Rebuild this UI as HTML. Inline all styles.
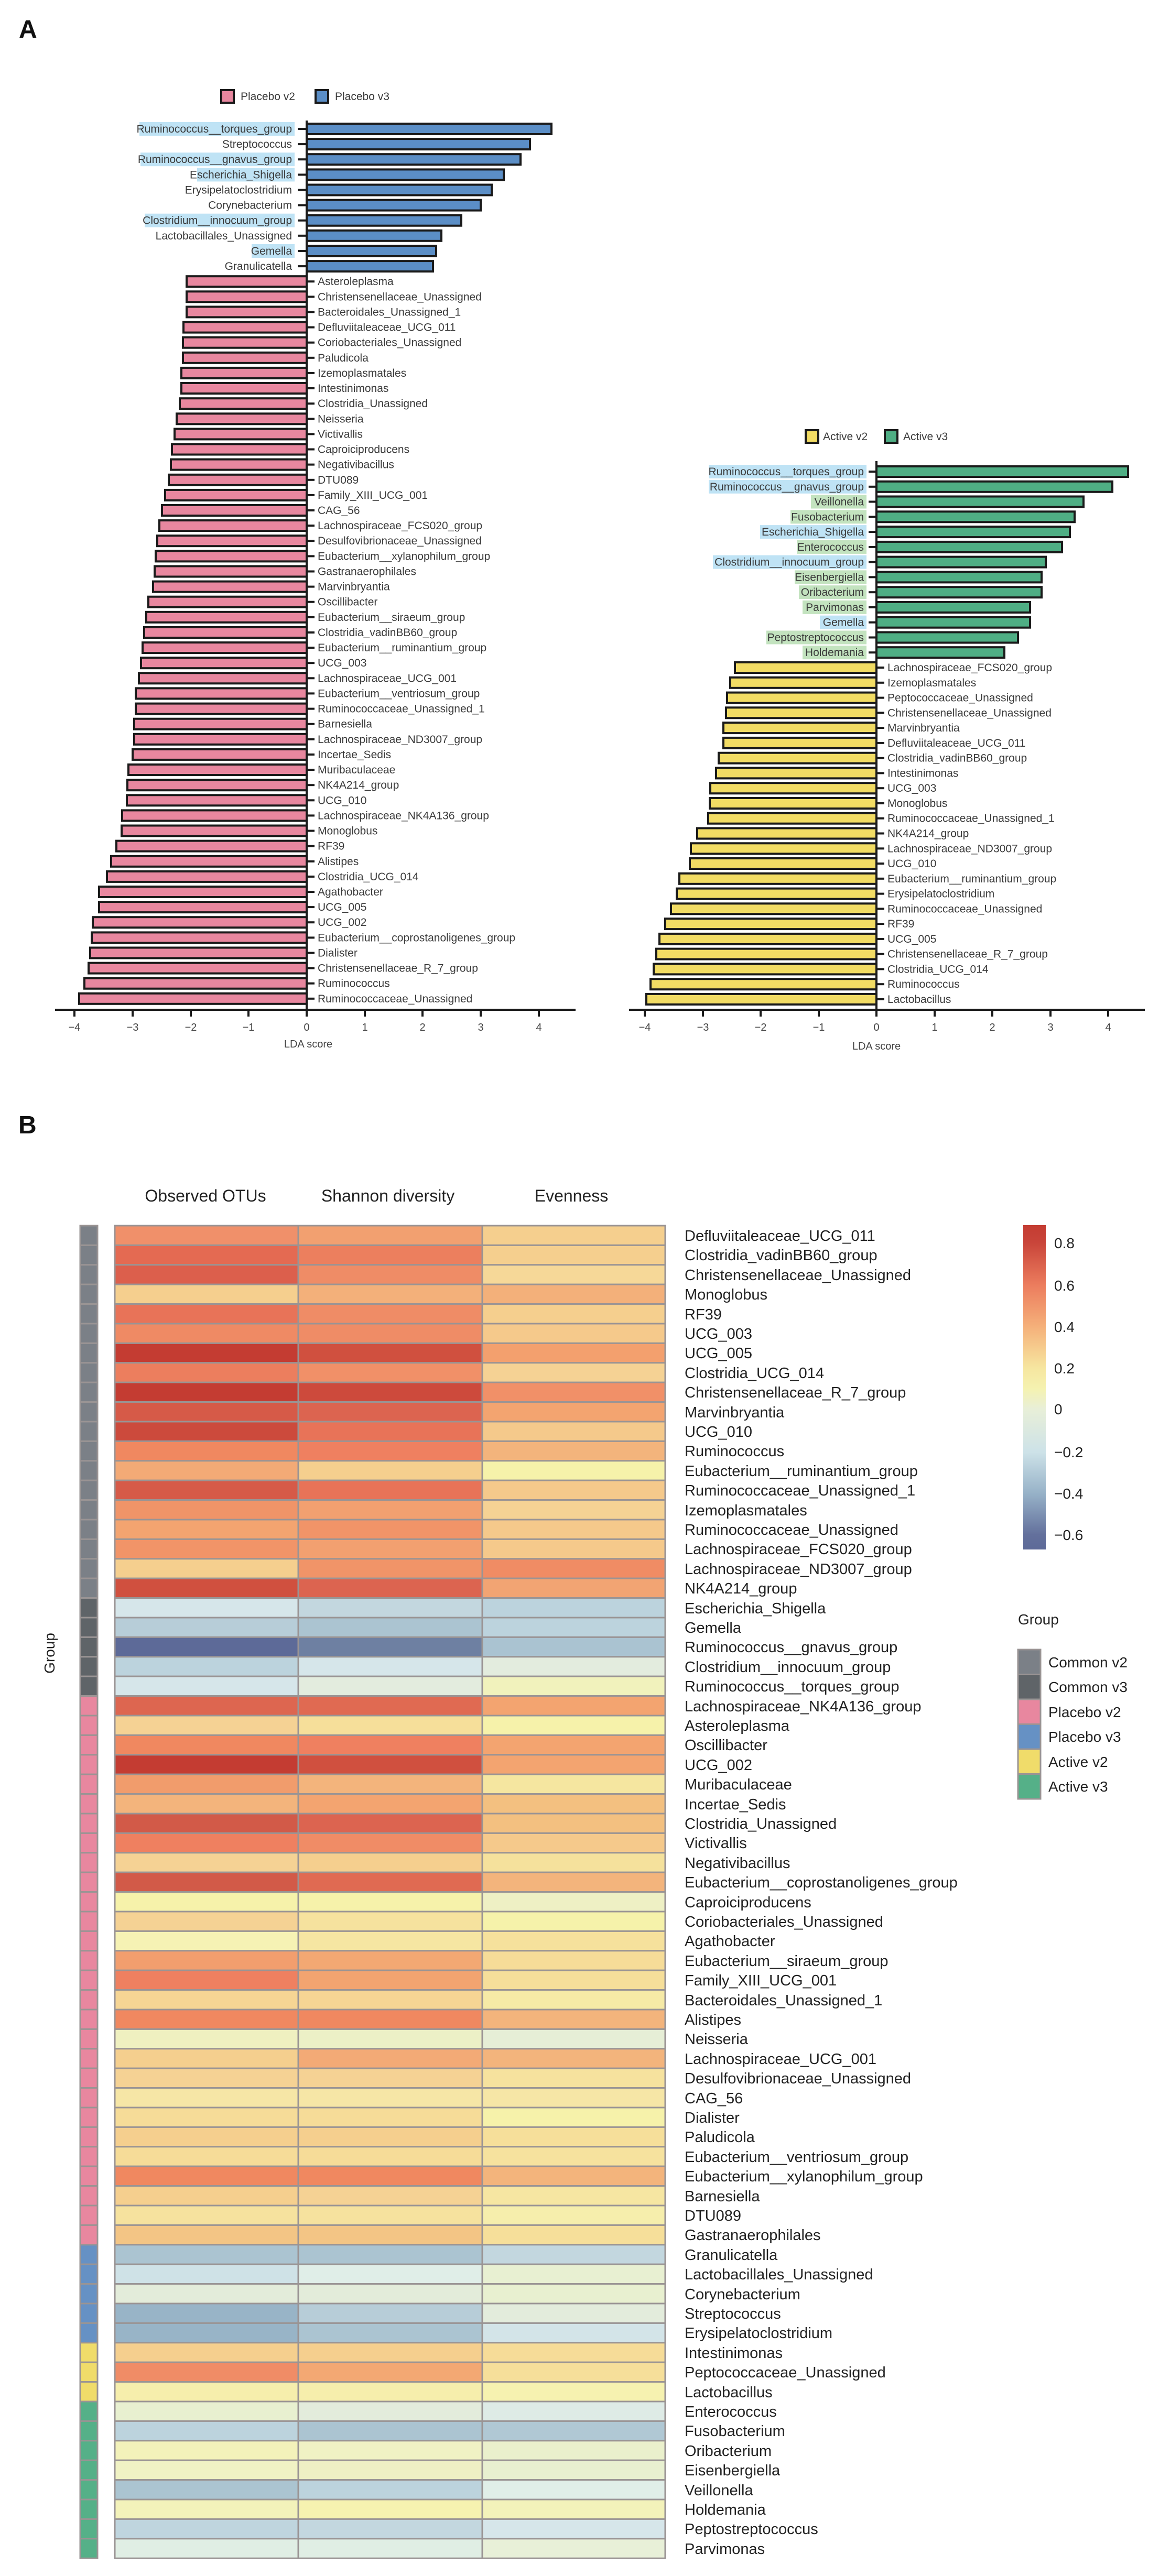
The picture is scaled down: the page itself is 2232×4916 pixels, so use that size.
<!DOCTYPE html>
<html><head><meta charset="utf-8"><style>
html,body{margin:0;padding:0;background:#fff}
svg{display:block}
text{font-family:"Liberation Sans",Arial,sans-serif}
.bl{font-size:21px;fill:#3a3a3a}
.r{text-anchor:end}
.pk{fill:#e8879f;stroke:#1a1a1a;stroke-width:4}
.bu{fill:#5b8ec6;stroke:#1a1a1a;stroke-width:4}
.ye{fill:#f2dc64;stroke:#1a1a1a;stroke-width:4}
.gr{fill:#4fae84;stroke:#1a1a1a;stroke-width:4}
.hb{fill:#bfe3f5}.hg{fill:#c3e3bf}
.tk{stroke:#1a1a1a;stroke-width:4}
.tl{font-size:20px;fill:#444;text-anchor:middle}
.hm rect{stroke:#9a9494;stroke-width:3}
.rl{font-size:29px;fill:#222}
.g1{fill:#7b8087}.g2{fill:#5f6468}.g3{fill:#e8879f}.g4{fill:#6691c4}.g5{fill:#f0dc6a}.g6{fill:#55b088}
</style></head><body>
<svg width="2232" height="4916" viewBox="0 0 2232 4916" xmlns="http://www.w3.org/2000/svg">
<text x="36" y="72" font-size="48" font-weight="bold" fill="#111">A</text>
<text x="35" y="2163" font-size="48" font-weight="bold" fill="#111">B</text>

<!-- Placebo legend -->
<rect x="422" y="172" width="24" height="24" class="pk"/>
<text x="459" y="191" class="bl">Placebo v2</text>
<rect x="602" y="172" width="24" height="24" class="bu"/>
<text x="639" y="191" class="bl">Placebo v3</text>

<!-- Placebo axes -->
<line x1="585" y1="230" x2="585" y2="1929" class="tk"/>
<line x1="105" y1="1927" x2="1098" y2="1927" class="tk"/>
<g class="tk">
<line x1="142" y1="1927" x2="142" y2="1940"/><line x1="253" y1="1927" x2="253" y2="1940"/><line x1="364" y1="1927" x2="364" y2="1940"/><line x1="474" y1="1927" x2="474" y2="1940"/><line x1="585" y1="1927" x2="585" y2="1940"/><line x1="696" y1="1927" x2="696" y2="1940"/><line x1="806" y1="1927" x2="806" y2="1940"/><line x1="917" y1="1927" x2="917" y2="1940"/><line x1="1028" y1="1927" x2="1028" y2="1940"/>
</g>
<g class="tl"><text x="142" y="1967">−4</text><text x="253" y="1967">−3</text><text x="364" y="1967">−2</text><text x="474" y="1967">−1</text><text x="585" y="1967">0</text><text x="696" y="1967">1</text><text x="806" y="1967">2</text><text x="917" y="1967">3</text><text x="1028" y="1967">4</text></g>
<text x="588" y="1999" class="tl">LDA score</text>

<!-- Placebo positive bars -->
<g transform="translate(0,246)"><rect x="266" y="-13" width="296" height="26" class="hb"/><rect x="585" y="-10" width="467" height="20" class="bu"/><line x1="568" x2="583" y1="0" y2="0" class="tk"/><text x="557" y="7" class="bl r">Ruminococcus__torques_group</text></g>
<g transform="translate(0,275.1)"><rect x="585" y="-10" width="426" height="20" class="bu"/><line x1="568" x2="583" y1="0" y2="0" class="tk"/><text x="557" y="7" class="bl r">Streptococcus</text></g>
<g transform="translate(0,304.2)"><rect x="268" y="-13" width="294" height="26" class="hb"/><rect x="585" y="-10" width="408" height="20" class="bu"/><line x1="568" x2="583" y1="0" y2="0" class="tk"/><text x="557" y="7" class="bl r">Ruminococcus__gnavus_group</text></g>
<g transform="translate(0,333.4)"><rect x="376" y="-13" width="186" height="26" class="hb"/><rect x="585" y="-10" width="376" height="20" class="bu"/><line x1="568" x2="583" y1="0" y2="0" class="tk"/><text x="557" y="7" class="bl r">Escherichia_Shigella</text></g>
<g transform="translate(0,362.5)"><rect x="585" y="-10" width="353" height="20" class="bu"/><line x1="568" x2="583" y1="0" y2="0" class="tk"/><text x="557" y="7" class="bl r">Erysipelatoclostridium</text></g>
<g transform="translate(0,391.6)"><rect x="585" y="-10" width="332" height="20" class="bu"/><line x1="568" x2="583" y1="0" y2="0" class="tk"/><text x="557" y="7" class="bl r">Corynebacterium</text></g>
<g transform="translate(0,420.7)"><rect x="276" y="-13" width="286" height="26" class="hb"/><rect x="585" y="-10" width="295" height="20" class="bu"/><line x1="568" x2="583" y1="0" y2="0" class="tk"/><text x="557" y="7" class="bl r">Clostridium__innocuum_group</text></g>
<g transform="translate(0,449.8)"><rect x="585" y="-10" width="257" height="20" class="bu"/><line x1="568" x2="583" y1="0" y2="0" class="tk"/><text x="557" y="7" class="bl r">Lactobacillales_Unassigned</text></g>
<g transform="translate(0,479.0)"><rect x="480" y="-13" width="82" height="26" class="hb"/><rect x="585" y="-10" width="247" height="20" class="bu"/><line x1="568" x2="583" y1="0" y2="0" class="tk"/><text x="557" y="7" class="bl r">Gemella</text></g>
<g transform="translate(0,508.1)"><rect x="585" y="-10" width="241" height="20" class="bu"/><line x1="568" x2="583" y1="0" y2="0" class="tk"/><text x="557" y="7" class="bl r">Granulicatella</text></g>

<!-- Placebo negative bars -->
<g transform="translate(0,537.2)"><rect x="356" y="-10" width="229" height="20" class="pk"/><line x1="587" x2="600" y1="0" y2="0" class="tk"/><text x="606" y="7" class="bl">Asteroleplasma</text></g>
<g transform="translate(0,566.3)"><rect x="356" y="-10" width="229" height="20" class="pk"/><line x1="587" x2="600" y1="0" y2="0" class="tk"/><text x="606" y="7" class="bl">Christensenellaceae_Unassigned</text></g>
<g transform="translate(0,595.4)"><rect x="356" y="-10" width="229" height="20" class="pk"/><line x1="587" x2="600" y1="0" y2="0" class="tk"/><text x="606" y="7" class="bl">Bacteroidales_Unassigned_1</text></g>
<g transform="translate(0,624.6)"><rect x="350" y="-10" width="235" height="20" class="pk"/><line x1="587" x2="600" y1="0" y2="0" class="tk"/><text x="606" y="7" class="bl">Defluviitaleaceae_UCG_011</text></g>
<g transform="translate(0,653.7)"><rect x="349" y="-10" width="236" height="20" class="pk"/><line x1="587" x2="600" y1="0" y2="0" class="tk"/><text x="606" y="7" class="bl">Coriobacteriales_Unassigned</text></g>
<g transform="translate(0,682.8)"><rect x="349" y="-10" width="236" height="20" class="pk"/><line x1="587" x2="600" y1="0" y2="0" class="tk"/><text x="606" y="7" class="bl">Paludicola</text></g>
<g transform="translate(0,711.9)"><rect x="346" y="-10" width="239" height="20" class="pk"/><line x1="587" x2="600" y1="0" y2="0" class="tk"/><text x="606" y="7" class="bl">Izemoplasmatales</text></g>
<g transform="translate(0,741.0)"><rect x="346" y="-10" width="239" height="20" class="pk"/><line x1="587" x2="600" y1="0" y2="0" class="tk"/><text x="606" y="7" class="bl">Intestinimonas</text></g>
<g transform="translate(0,770.2)"><rect x="343" y="-10" width="242" height="20" class="pk"/><line x1="587" x2="600" y1="0" y2="0" class="tk"/><text x="606" y="7" class="bl">Clostridia_Unassigned</text></g>
<g transform="translate(0,799.3)"><rect x="337" y="-10" width="248" height="20" class="pk"/><line x1="587" x2="600" y1="0" y2="0" class="tk"/><text x="606" y="7" class="bl">Neisseria</text></g>
<g transform="translate(0,828.4)"><rect x="333" y="-10" width="252" height="20" class="pk"/><line x1="587" x2="600" y1="0" y2="0" class="tk"/><text x="606" y="7" class="bl">Victivallis</text></g>
<g transform="translate(0,857.5)"><rect x="328" y="-10" width="257" height="20" class="pk"/><line x1="587" x2="600" y1="0" y2="0" class="tk"/><text x="606" y="7" class="bl">Caproiciproducens</text></g>
<g transform="translate(0,886.6)"><rect x="326" y="-10" width="259" height="20" class="pk"/><line x1="587" x2="600" y1="0" y2="0" class="tk"/><text x="606" y="7" class="bl">Negativibacillus</text></g>
<g transform="translate(0,915.8)"><rect x="322" y="-10" width="263" height="20" class="pk"/><line x1="587" x2="600" y1="0" y2="0" class="tk"/><text x="606" y="7" class="bl">DTU089</text></g>
<g transform="translate(0,944.9)"><rect x="315" y="-10" width="270" height="20" class="pk"/><line x1="587" x2="600" y1="0" y2="0" class="tk"/><text x="606" y="7" class="bl">Family_XIII_UCG_001</text></g>
<g transform="translate(0,974.0)"><rect x="309" y="-10" width="276" height="20" class="pk"/><line x1="587" x2="600" y1="0" y2="0" class="tk"/><text x="606" y="7" class="bl">CAG_56</text></g>
<g transform="translate(0,1003.1)"><rect x="304" y="-10" width="281" height="20" class="pk"/><line x1="587" x2="600" y1="0" y2="0" class="tk"/><text x="606" y="7" class="bl">Lachnospiraceae_FCS020_group</text></g>
<g transform="translate(0,1032.2)"><rect x="300" y="-10" width="285" height="20" class="pk"/><line x1="587" x2="600" y1="0" y2="0" class="tk"/><text x="606" y="7" class="bl">Desulfovibrionaceae_Unassigned</text></g>
<g transform="translate(0,1061.4)"><rect x="297" y="-10" width="288" height="20" class="pk"/><line x1="587" x2="600" y1="0" y2="0" class="tk"/><text x="606" y="7" class="bl">Eubacterium__xylanophilum_group</text></g>
<g transform="translate(0,1090.5)"><rect x="295" y="-10" width="290" height="20" class="pk"/><line x1="587" x2="600" y1="0" y2="0" class="tk"/><text x="606" y="7" class="bl">Gastranaerophilales</text></g>
<g transform="translate(0,1119.6)"><rect x="292" y="-10" width="293" height="20" class="pk"/><line x1="587" x2="600" y1="0" y2="0" class="tk"/><text x="606" y="7" class="bl">Marvinbryantia</text></g>
<g transform="translate(0,1148.7)"><rect x="283" y="-10" width="302" height="20" class="pk"/><line x1="587" x2="600" y1="0" y2="0" class="tk"/><text x="606" y="7" class="bl">Oscillibacter</text></g>
<g transform="translate(0,1177.8)"><rect x="279" y="-10" width="306" height="20" class="pk"/><line x1="587" x2="600" y1="0" y2="0" class="tk"/><text x="606" y="7" class="bl">Eubacterium__siraeum_group</text></g>
<g transform="translate(0,1207.0)"><rect x="275" y="-10" width="310" height="20" class="pk"/><line x1="587" x2="600" y1="0" y2="0" class="tk"/><text x="606" y="7" class="bl">Clostridia_vadinBB60_group</text></g>
<g transform="translate(0,1236.1)"><rect x="272" y="-10" width="313" height="20" class="pk"/><line x1="587" x2="600" y1="0" y2="0" class="tk"/><text x="606" y="7" class="bl">Eubacterium__ruminantium_group</text></g>
<g transform="translate(0,1265.2)"><rect x="269" y="-10" width="316" height="20" class="pk"/><line x1="587" x2="600" y1="0" y2="0" class="tk"/><text x="606" y="7" class="bl">UCG_003</text></g>
<g transform="translate(0,1294.3)"><rect x="265" y="-10" width="320" height="20" class="pk"/><line x1="587" x2="600" y1="0" y2="0" class="tk"/><text x="606" y="7" class="bl">Lachnospiraceae_UCG_001</text></g>
<g transform="translate(0,1323.4)"><rect x="259" y="-10" width="326" height="20" class="pk"/><line x1="587" x2="600" y1="0" y2="0" class="tk"/><text x="606" y="7" class="bl">Eubacterium__ventriosum_group</text></g>
<g transform="translate(0,1352.6)"><rect x="259" y="-10" width="326" height="20" class="pk"/><line x1="587" x2="600" y1="0" y2="0" class="tk"/><text x="606" y="7" class="bl">Ruminococcaceae_Unassigned_1</text></g>
<g transform="translate(0,1381.7)"><rect x="256" y="-10" width="329" height="20" class="pk"/><line x1="587" x2="600" y1="0" y2="0" class="tk"/><text x="606" y="7" class="bl">Barnesiella</text></g>
<g transform="translate(0,1410.8)"><rect x="256" y="-10" width="329" height="20" class="pk"/><line x1="587" x2="600" y1="0" y2="0" class="tk"/><text x="606" y="7" class="bl">Lachnospiraceae_ND3007_group</text></g>
<g transform="translate(0,1439.9)"><rect x="253" y="-10" width="332" height="20" class="pk"/><line x1="587" x2="600" y1="0" y2="0" class="tk"/><text x="606" y="7" class="bl">Incertae_Sedis</text></g>
<g transform="translate(0,1469.0)"><rect x="245" y="-10" width="340" height="20" class="pk"/><line x1="587" x2="600" y1="0" y2="0" class="tk"/><text x="606" y="7" class="bl">Muribaculaceae</text></g>
<g transform="translate(0,1498.2)"><rect x="243" y="-10" width="342" height="20" class="pk"/><line x1="587" x2="600" y1="0" y2="0" class="tk"/><text x="606" y="7" class="bl">NK4A214_group</text></g>
<g transform="translate(0,1527.3)"><rect x="242" y="-10" width="343" height="20" class="pk"/><line x1="587" x2="600" y1="0" y2="0" class="tk"/><text x="606" y="7" class="bl">UCG_010</text></g>
<g transform="translate(0,1556.4)"><rect x="233" y="-10" width="352" height="20" class="pk"/><line x1="587" x2="600" y1="0" y2="0" class="tk"/><text x="606" y="7" class="bl">Lachnospiraceae_NK4A136_group</text></g>
<g transform="translate(0,1585.5)"><rect x="232" y="-10" width="353" height="20" class="pk"/><line x1="587" x2="600" y1="0" y2="0" class="tk"/><text x="606" y="7" class="bl">Monoglobus</text></g>
<g transform="translate(0,1614.6)"><rect x="222" y="-10" width="363" height="20" class="pk"/><line x1="587" x2="600" y1="0" y2="0" class="tk"/><text x="606" y="7" class="bl">RF39</text></g>
<g transform="translate(0,1643.8)"><rect x="212" y="-10" width="373" height="20" class="pk"/><line x1="587" x2="600" y1="0" y2="0" class="tk"/><text x="606" y="7" class="bl">Alistipes</text></g>
<g transform="translate(0,1672.9)"><rect x="204" y="-10" width="381" height="20" class="pk"/><line x1="587" x2="600" y1="0" y2="0" class="tk"/><text x="606" y="7" class="bl">Clostridia_UCG_014</text></g>
<g transform="translate(0,1702.0)"><rect x="189" y="-10" width="396" height="20" class="pk"/><line x1="587" x2="600" y1="0" y2="0" class="tk"/><text x="606" y="7" class="bl">Agathobacter</text></g>
<g transform="translate(0,1731.1)"><rect x="189" y="-10" width="396" height="20" class="pk"/><line x1="587" x2="600" y1="0" y2="0" class="tk"/><text x="606" y="7" class="bl">UCG_005</text></g>
<g transform="translate(0,1760.2)"><rect x="177" y="-10" width="408" height="20" class="pk"/><line x1="587" x2="600" y1="0" y2="0" class="tk"/><text x="606" y="7" class="bl">UCG_002</text></g>
<g transform="translate(0,1789.4)"><rect x="175" y="-10" width="410" height="20" class="pk"/><line x1="587" x2="600" y1="0" y2="0" class="tk"/><text x="606" y="7" class="bl">Eubacterium__coprostanoligenes_group</text></g>
<g transform="translate(0,1818.5)"><rect x="172" y="-10" width="413" height="20" class="pk"/><line x1="587" x2="600" y1="0" y2="0" class="tk"/><text x="606" y="7" class="bl">Dialister</text></g>
<g transform="translate(0,1847.6)"><rect x="169" y="-10" width="416" height="20" class="pk"/><line x1="587" x2="600" y1="0" y2="0" class="tk"/><text x="606" y="7" class="bl">Christensenellaceae_R_7_group</text></g>
<g transform="translate(0,1876.7)"><rect x="161" y="-10" width="424" height="20" class="pk"/><line x1="587" x2="600" y1="0" y2="0" class="tk"/><text x="606" y="7" class="bl">Ruminococcus</text></g>
<g transform="translate(0,1905.8)"><rect x="151" y="-10" width="434" height="20" class="pk"/><line x1="587" x2="600" y1="0" y2="0" class="tk"/><text x="606" y="7" class="bl">Ruminococcaceae_Unassigned</text></g>

<!-- Active legend -->
<rect x="1537" y="821" width="24" height="24" class="ye"/>
<text x="1570" y="840" class="bl">Active v2</text>
<rect x="1688" y="821" width="24" height="24" class="gr"/>
<text x="1723" y="840" class="bl">Active v3</text>

<!-- Active axes -->
<line x1="1672" y1="880" x2="1672" y2="1929" class="tk"/>
<line x1="1200" y1="1927" x2="2184" y2="1927" class="tk"/>
<g class="tk">
<line x1="1230" y1="1927" x2="1230" y2="1940"/><line x1="1341" y1="1927" x2="1341" y2="1940"/><line x1="1451" y1="1927" x2="1451" y2="1940"/><line x1="1562" y1="1927" x2="1562" y2="1940"/><line x1="1672" y1="1927" x2="1672" y2="1940"/><line x1="1783" y1="1927" x2="1783" y2="1940"/><line x1="1893" y1="1927" x2="1893" y2="1940"/><line x1="2004" y1="1927" x2="2004" y2="1940"/><line x1="2114" y1="1927" x2="2114" y2="1940"/>
</g>
<g class="tl"><text x="1230" y="1967">−4</text><text x="1341" y="1967">−3</text><text x="1451" y="1967">−2</text><text x="1562" y="1967">−1</text><text x="1672" y="1967">0</text><text x="1783" y="1967">1</text><text x="1893" y="1967">2</text><text x="2004" y="1967">3</text><text x="2114" y="1967">4</text></g>
<text x="1672" y="2003" class="tl">LDA score</text>

<!-- Active positive bars -->
<g transform="translate(0,900)"><rect x="1352" y="-13" width="301" height="26" class="hb"/><rect x="1672" y="-10" width="480" height="20" class="gr"/><line x1="1657" x2="1670" y1="0" y2="0" class="tk"/><text x="1648" y="7" class="bl r">Ruminococcus__torques_group</text></g>
<g transform="translate(0,928.8)"><rect x="1352" y="-13" width="301" height="26" class="hb"/><rect x="1672" y="-10" width="450" height="20" class="gr"/><line x1="1657" x2="1670" y1="0" y2="0" class="tk"/><text x="1648" y="7" class="bl r">Ruminococcus__gnavus_group</text></g>
<g transform="translate(0,957.5)"><rect x="1547" y="-13" width="106" height="26" class="hg"/><rect x="1672" y="-10" width="395" height="20" class="gr"/><line x1="1657" x2="1670" y1="0" y2="0" class="tk"/><text x="1648" y="7" class="bl r">Veillonella</text></g>
<g transform="translate(0,986.3)"><rect x="1508" y="-13" width="145" height="26" class="hg"/><rect x="1672" y="-10" width="378" height="20" class="gr"/><line x1="1657" x2="1670" y1="0" y2="0" class="tk"/><text x="1648" y="7" class="bl r">Fusobacterium</text></g>
<g transform="translate(0,1015.1)"><rect x="1450" y="-13" width="203" height="26" class="hb"/><rect x="1672" y="-10" width="369" height="20" class="gr"/><line x1="1657" x2="1670" y1="0" y2="0" class="tk"/><text x="1648" y="7" class="bl r">Escherichia_Shigella</text></g>
<g transform="translate(0,1043.9)"><rect x="1520" y="-13" width="133" height="26" class="hg"/><rect x="1672" y="-10" width="354" height="20" class="gr"/><line x1="1657" x2="1670" y1="0" y2="0" class="tk"/><text x="1648" y="7" class="bl r">Enterococcus</text></g>
<g transform="translate(0,1072.6)"><rect x="1360" y="-13" width="293" height="26" class="hb"/><rect x="1672" y="-10" width="323" height="20" class="gr"/><line x1="1657" x2="1670" y1="0" y2="0" class="tk"/><text x="1648" y="7" class="bl r">Clostridium__innocuum_group</text></g>
<g transform="translate(0,1101.4)"><rect x="1516" y="-13" width="137" height="26" class="hg"/><rect x="1672" y="-10" width="315" height="20" class="gr"/><line x1="1657" x2="1670" y1="0" y2="0" class="tk"/><text x="1648" y="7" class="bl r">Eisenbergiella</text></g>
<g transform="translate(0,1130.2)"><rect x="1524" y="-13" width="129" height="26" class="hg"/><rect x="1672" y="-10" width="315" height="20" class="gr"/><line x1="1657" x2="1670" y1="0" y2="0" class="tk"/><text x="1648" y="7" class="bl r">Oribacterium</text></g>
<g transform="translate(0,1158.9)"><rect x="1531" y="-13" width="122" height="26" class="hg"/><rect x="1672" y="-10" width="293" height="20" class="gr"/><line x1="1657" x2="1670" y1="0" y2="0" class="tk"/><text x="1648" y="7" class="bl r">Parvimonas</text></g>
<g transform="translate(0,1187.7)"><rect x="1564" y="-13" width="89" height="26" class="hb"/><rect x="1672" y="-10" width="293" height="20" class="gr"/><line x1="1657" x2="1670" y1="0" y2="0" class="tk"/><text x="1648" y="7" class="bl r">Gemella</text></g>
<g transform="translate(0,1216.5)"><rect x="1462" y="-13" width="191" height="26" class="hg"/><rect x="1672" y="-10" width="270" height="20" class="gr"/><line x1="1657" x2="1670" y1="0" y2="0" class="tk"/><text x="1648" y="7" class="bl r">Peptostreptococcus</text></g>
<g transform="translate(0,1245.2)"><rect x="1531" y="-13" width="122" height="26" class="hg"/><rect x="1672" y="-10" width="244" height="20" class="gr"/><line x1="1657" x2="1670" y1="0" y2="0" class="tk"/><text x="1648" y="7" class="bl r">Holdemania</text></g>

<!-- Active negative bars -->
<g transform="translate(0,1274.0)"><rect x="1402" y="-10" width="270" height="20" class="ye"/><line x1="1674" x2="1687" y1="0" y2="0" class="tk"/><text x="1693" y="7" class="bl">Lachnospiraceae_FCS020_group</text></g>
<g transform="translate(0,1302.8)"><rect x="1393" y="-10" width="279" height="20" class="ye"/><line x1="1674" x2="1687" y1="0" y2="0" class="tk"/><text x="1693" y="7" class="bl">Izemoplasmatales</text></g>
<g transform="translate(0,1331.6)"><rect x="1387" y="-10" width="285" height="20" class="ye"/><line x1="1674" x2="1687" y1="0" y2="0" class="tk"/><text x="1693" y="7" class="bl">Peptococcaceae_Unassigned</text></g>
<g transform="translate(0,1360.3)"><rect x="1385" y="-10" width="287" height="20" class="ye"/><line x1="1674" x2="1687" y1="0" y2="0" class="tk"/><text x="1693" y="7" class="bl">Christensenellaceae_Unassigned</text></g>
<g transform="translate(0,1389.1)"><rect x="1380" y="-10" width="292" height="20" class="ye"/><line x1="1674" x2="1687" y1="0" y2="0" class="tk"/><text x="1693" y="7" class="bl">Marvinbryantia</text></g>
<g transform="translate(0,1417.9)"><rect x="1380" y="-10" width="292" height="20" class="ye"/><line x1="1674" x2="1687" y1="0" y2="0" class="tk"/><text x="1693" y="7" class="bl">Defluviitaleaceae_UCG_011</text></g>
<g transform="translate(0,1446.7)"><rect x="1371" y="-10" width="301" height="20" class="ye"/><line x1="1674" x2="1687" y1="0" y2="0" class="tk"/><text x="1693" y="7" class="bl">Clostridia_vadinBB60_group</text></g>
<g transform="translate(0,1475.4)"><rect x="1366" y="-10" width="306" height="20" class="ye"/><line x1="1674" x2="1687" y1="0" y2="0" class="tk"/><text x="1693" y="7" class="bl">Intestinimonas</text></g>
<g transform="translate(0,1504.2)"><rect x="1355" y="-10" width="317" height="20" class="ye"/><line x1="1674" x2="1687" y1="0" y2="0" class="tk"/><text x="1693" y="7" class="bl">UCG_003</text></g>
<g transform="translate(0,1533.0)"><rect x="1354" y="-10" width="318" height="20" class="ye"/><line x1="1674" x2="1687" y1="0" y2="0" class="tk"/><text x="1693" y="7" class="bl">Monoglobus</text></g>
<g transform="translate(0,1561.7)"><rect x="1351" y="-10" width="321" height="20" class="ye"/><line x1="1674" x2="1687" y1="0" y2="0" class="tk"/><text x="1693" y="7" class="bl">Ruminococcaceae_Unassigned_1</text></g>
<g transform="translate(0,1590.5)"><rect x="1330" y="-10" width="342" height="20" class="ye"/><line x1="1674" x2="1687" y1="0" y2="0" class="tk"/><text x="1693" y="7" class="bl">NK4A214_group</text></g>
<g transform="translate(0,1619.3)"><rect x="1318" y="-10" width="354" height="20" class="ye"/><line x1="1674" x2="1687" y1="0" y2="0" class="tk"/><text x="1693" y="7" class="bl">Lachnospiraceae_ND3007_group</text></g>
<g transform="translate(0,1648.0)"><rect x="1316" y="-10" width="356" height="20" class="ye"/><line x1="1674" x2="1687" y1="0" y2="0" class="tk"/><text x="1693" y="7" class="bl">UCG_010</text></g>
<g transform="translate(0,1676.8)"><rect x="1296" y="-10" width="376" height="20" class="ye"/><line x1="1674" x2="1687" y1="0" y2="0" class="tk"/><text x="1693" y="7" class="bl">Eubacterium__ruminantium_group</text></g>
<g transform="translate(0,1705.6)"><rect x="1291" y="-10" width="381" height="20" class="ye"/><line x1="1674" x2="1687" y1="0" y2="0" class="tk"/><text x="1693" y="7" class="bl">Erysipelatoclostridium</text></g>
<g transform="translate(0,1734.3)"><rect x="1280" y="-10" width="392" height="20" class="ye"/><line x1="1674" x2="1687" y1="0" y2="0" class="tk"/><text x="1693" y="7" class="bl">Ruminococcaceae_Unassigned</text></g>
<g transform="translate(0,1763.1)"><rect x="1269" y="-10" width="403" height="20" class="ye"/><line x1="1674" x2="1687" y1="0" y2="0" class="tk"/><text x="1693" y="7" class="bl">RF39</text></g>
<g transform="translate(0,1791.9)"><rect x="1258" y="-10" width="414" height="20" class="ye"/><line x1="1674" x2="1687" y1="0" y2="0" class="tk"/><text x="1693" y="7" class="bl">UCG_005</text></g>
<g transform="translate(0,1820.6)"><rect x="1252" y="-10" width="420" height="20" class="ye"/><line x1="1674" x2="1687" y1="0" y2="0" class="tk"/><text x="1693" y="7" class="bl">Christensenellaceae_R_7_group</text></g>
<g transform="translate(0,1849.4)"><rect x="1247" y="-10" width="425" height="20" class="ye"/><line x1="1674" x2="1687" y1="0" y2="0" class="tk"/><text x="1693" y="7" class="bl">Clostridia_UCG_014</text></g>
<g transform="translate(0,1878.2)"><rect x="1241" y="-10" width="431" height="20" class="ye"/><line x1="1674" x2="1687" y1="0" y2="0" class="tk"/><text x="1693" y="7" class="bl">Ruminococcus</text></g>
<g transform="translate(0,1906.9)"><rect x="1233" y="-10" width="439" height="20" class="ye"/><line x1="1674" x2="1687" y1="0" y2="0" class="tk"/><text x="1693" y="7" class="bl">Lactobacillus</text></g>

<!-- Panel B headers -->
<g font-size="32" fill="#222" text-anchor="middle">
<text x="392" y="2293">Observed OTUs</text>
<text x="740" y="2293">Shannon diversity</text>
<text x="1090" y="2293">Evenness</text>
</g>
<text transform="translate(104,3155) rotate(-90)" font-size="28" fill="#222" text-anchor="middle">Group</text>

<!-- Heatmap rows -->
<g class="hm">
<g transform="translate(0,2339.0)"><rect x="153" width="33" height="37.4" class="g1"/><rect x="219" width="350" height="37.4" fill="#f0906a"/><rect x="569" width="351" height="37.4" fill="#f2a070"/><rect x="920" width="349" height="37.4" fill="#f5cf8e"/></g>
<g transform="translate(0,2376.4)"><rect x="153" width="33" height="37.4" class="g1"/><rect x="219" width="350" height="37.4" fill="#e46a52"/><rect x="569" width="351" height="37.4" fill="#ec7f5e"/><rect x="920" width="349" height="37.4" fill="#f5cf8e"/></g>
<g transform="translate(0,2413.8)"><rect x="153" width="33" height="37.4" class="g1"/><rect x="219" width="350" height="37.4" fill="#dc5f4c"/><rect x="569" width="351" height="37.4" fill="#ef8c66"/><rect x="920" width="349" height="37.4" fill="#f6d898"/></g>
<g transform="translate(0,2451.2)"><rect x="153" width="33" height="37.4" class="g1"/><rect x="219" width="350" height="37.4" fill="#f5cf8e"/><rect x="569" width="351" height="37.4" fill="#f3b07a"/><rect x="920" width="349" height="37.4" fill="#f3b07a"/></g>
<g transform="translate(0,2488.6)"><rect x="153" width="33" height="37.4" class="g1"/><rect x="219" width="350" height="37.4" fill="#e87358"/><rect x="569" width="351" height="37.4" fill="#ef8c66"/><rect x="920" width="349" height="37.4" fill="#f5cf8e"/></g>
<g transform="translate(0,2526.0)"><rect x="153" width="33" height="37.4" class="g1"/><rect x="219" width="350" height="37.4" fill="#ef8a64"/><rect x="569" width="351" height="37.4" fill="#ef8c66"/><rect x="920" width="349" height="37.4" fill="#f5c98b"/></g>
<g transform="translate(0,2563.4)"><rect x="153" width="33" height="37.4" class="g1"/><rect x="219" width="350" height="37.4" fill="#c43c32"/><rect x="569" width="351" height="37.4" fill="#d0503f"/><rect x="920" width="349" height="37.4" fill="#f3a06e"/></g>
<g transform="translate(0,2600.8)"><rect x="153" width="33" height="37.4" class="g1"/><rect x="219" width="350" height="37.4" fill="#ec7e5e"/><rect x="569" width="351" height="37.4" fill="#f19068"/><rect x="920" width="349" height="37.4" fill="#f5d294"/></g>
<g transform="translate(0,2638.2)"><rect x="153" width="33" height="37.4" class="g1"/><rect x="219" width="350" height="37.4" fill="#c43c32"/><rect x="569" width="351" height="37.4" fill="#cd4a3c"/><rect x="920" width="349" height="37.4" fill="#f19068"/></g>
<g transform="translate(0,2675.6)"><rect x="153" width="33" height="37.4" class="g1"/><rect x="219" width="350" height="37.4" fill="#d65a48"/><rect x="569" width="351" height="37.4" fill="#dc6450"/><rect x="920" width="349" height="37.4" fill="#f3a470"/></g>
<g transform="translate(0,2713.0)"><rect x="153" width="33" height="37.4" class="g1"/><rect x="219" width="350" height="37.4" fill="#cc4a3c"/><rect x="569" width="351" height="37.4" fill="#e87358"/><rect x="920" width="349" height="37.4" fill="#f5c98b"/></g>
<g transform="translate(0,2750.4)"><rect x="153" width="33" height="37.4" class="g1"/><rect x="219" width="350" height="37.4" fill="#f08860"/><rect x="569" width="351" height="37.4" fill="#ef8060"/><rect x="920" width="349" height="37.4" fill="#f3b47c"/></g>
<g transform="translate(0,2787.8)"><rect x="153" width="33" height="37.4" class="g1"/><rect x="219" width="350" height="37.4" fill="#f3aa76"/><rect x="569" width="351" height="37.4" fill="#f5cf8e"/><rect x="920" width="349" height="37.4" fill="#f6f2aa"/></g>
<g transform="translate(0,2825.2)"><rect x="153" width="33" height="37.4" class="g1"/><rect x="219" width="350" height="37.4" fill="#d65a48"/><rect x="569" width="351" height="37.4" fill="#e87358"/><rect x="920" width="349" height="37.4" fill="#f5c98b"/></g>
<g transform="translate(0,2862.6)"><rect x="153" width="33" height="37.4" class="g1"/><rect x="219" width="350" height="37.4" fill="#f09468"/><rect x="569" width="351" height="37.4" fill="#f2a070"/><rect x="920" width="349" height="37.4" fill="#f5d294"/></g>
<g transform="translate(0,2900.0)"><rect x="153" width="33" height="37.4" class="g1"/><rect x="219" width="350" height="37.4" fill="#f3a470"/><rect x="569" width="351" height="37.4" fill="#f19468"/><rect x="920" width="349" height="37.4" fill="#f5c98b"/></g>
<g transform="translate(0,2937.4)"><rect x="153" width="33" height="37.4" class="g1"/><rect x="219" width="350" height="37.4" fill="#f19468"/><rect x="569" width="351" height="37.4" fill="#f2a070"/><rect x="920" width="349" height="37.4" fill="#f5c98b"/></g>
<g transform="translate(0,2974.8)"><rect x="153" width="33" height="37.4" class="g1"/><rect x="219" width="350" height="37.4" fill="#f5cf8e"/><rect x="569" width="351" height="37.4" fill="#f19468"/><rect x="920" width="349" height="37.4" fill="#f08c64"/></g>
<g transform="translate(0,3012.2)"><rect x="153" width="33" height="37.4" class="g1"/><rect x="219" width="350" height="37.4" fill="#d0503f"/><rect x="569" width="351" height="37.4" fill="#dc6450"/><rect x="920" width="349" height="37.4" fill="#f2a473"/></g>
<g transform="translate(0,3049.6)"><rect x="153" width="33" height="37.4" class="g2"/><rect x="219" width="350" height="37.4" fill="#d6e6ea"/><rect x="569" width="351" height="37.4" fill="#c3d7df"/><rect x="920" width="349" height="37.4" fill="#bcd3dd"/></g>
<g transform="translate(0,3087.0)"><rect x="153" width="33" height="37.4" class="g2"/><rect x="219" width="350" height="37.4" fill="#b7cdd8"/><rect x="569" width="351" height="37.4" fill="#abc4d1"/><rect x="920" width="349" height="37.4" fill="#bcd3dd"/></g>
<g transform="translate(0,3124.4)"><rect x="153" width="33" height="37.4" class="g2"/><rect x="219" width="350" height="37.4" fill="#5d6a98"/><rect x="569" width="351" height="37.4" fill="#6e80a2"/><rect x="920" width="349" height="37.4" fill="#aac3d1"/></g>
<g transform="translate(0,3161.8)"><rect x="153" width="33" height="37.4" class="g2"/><rect x="219" width="350" height="37.4" fill="#bcd3dd"/><rect x="569" width="351" height="37.4" fill="#d6e6ea"/><rect x="920" width="349" height="37.4" fill="#e3ecde"/></g>
<g transform="translate(0,3199.2)"><rect x="153" width="33" height="37.4" class="g2"/><rect x="219" width="350" height="37.4" fill="#d6e6ea"/><rect x="569" width="351" height="37.4" fill="#e3ecde"/><rect x="920" width="349" height="37.4" fill="#f1f2bc"/></g>
<g transform="translate(0,3236.6)"><rect x="153" width="33" height="37.4" class="g3"/><rect x="219" width="350" height="37.4" fill="#dd6650"/><rect x="569" width="351" height="37.4" fill="#e06a52"/><rect x="920" width="349" height="37.4" fill="#f3a470"/></g>
<g transform="translate(0,3274.0)"><rect x="153" width="33" height="37.4" class="g3"/><rect x="219" width="350" height="37.4" fill="#f5d294"/><rect x="569" width="351" height="37.4" fill="#f6df9a"/><rect x="920" width="349" height="37.4" fill="#f6f2aa"/></g>
<g transform="translate(0,3311.4)"><rect x="153" width="33" height="37.4" class="g3"/><rect x="219" width="350" height="37.4" fill="#f08860"/><rect x="569" width="351" height="37.4" fill="#ef8060"/><rect x="920" width="349" height="37.4" fill="#f3a470"/></g>
<g transform="translate(0,3348.8)"><rect x="153" width="33" height="37.4" class="g3"/><rect x="219" width="350" height="37.4" fill="#c43c32"/><rect x="569" width="351" height="37.4" fill="#d0503f"/><rect x="920" width="349" height="37.4" fill="#f3a470"/></g>
<g transform="translate(0,3386.2)"><rect x="153" width="33" height="37.4" class="g3"/><rect x="219" width="350" height="37.4" fill="#f19c6c"/><rect x="569" width="351" height="37.4" fill="#f3b47c"/><rect x="920" width="349" height="37.4" fill="#f5e6a0"/></g>
<g transform="translate(0,3423.6)"><rect x="153" width="33" height="37.4" class="g3"/><rect x="219" width="350" height="37.4" fill="#f3b47c"/><rect x="569" width="351" height="37.4" fill="#f3a470"/><rect x="920" width="349" height="37.4" fill="#f3c080"/></g>
<g transform="translate(0,3461.0)"><rect x="153" width="33" height="37.4" class="g3"/><rect x="219" width="350" height="37.4" fill="#d25a48"/><rect x="569" width="351" height="37.4" fill="#dc6450"/><rect x="920" width="349" height="37.4" fill="#f3c080"/></g>
<g transform="translate(0,3498.4)"><rect x="153" width="33" height="37.4" class="g3"/><rect x="219" width="350" height="37.4" fill="#ef8060"/><rect x="569" width="351" height="37.4" fill="#f08c66"/><rect x="920" width="349" height="37.4" fill="#f5c98b"/></g>
<g transform="translate(0,3535.8)"><rect x="153" width="33" height="37.4" class="g3"/><rect x="219" width="350" height="37.4" fill="#f5d294"/><rect x="569" width="351" height="37.4" fill="#f5cf8e"/><rect x="920" width="349" height="37.4" fill="#f5e19c"/></g>
<g transform="translate(0,3573.2)"><rect x="153" width="33" height="37.4" class="g3"/><rect x="219" width="350" height="37.4" fill="#d25a48"/><rect x="569" width="351" height="37.4" fill="#e06a52"/><rect x="920" width="349" height="37.4" fill="#f3b47c"/></g>
<g transform="translate(0,3610.6)"><rect x="153" width="33" height="37.4" class="g3"/><rect x="219" width="350" height="37.4" fill="#f6f2aa"/><rect x="569" width="351" height="37.4" fill="#f6f2aa"/><rect x="920" width="349" height="37.4" fill="#eef0c4"/></g>
<g transform="translate(0,3648.0)"><rect x="153" width="33" height="37.4" class="g3"/><rect x="219" width="350" height="37.4" fill="#f5d294"/><rect x="569" width="351" height="37.4" fill="#f6e29e"/><rect x="920" width="349" height="37.4" fill="#f6f2aa"/></g>
<g transform="translate(0,3685.4)"><rect x="153" width="33" height="37.4" class="g3"/><rect x="219" width="350" height="37.4" fill="#f6f2b4"/><rect x="569" width="351" height="37.4" fill="#f6e6a2"/><rect x="920" width="349" height="37.4" fill="#f6e19c"/></g>
<g transform="translate(0,3722.8)"><rect x="153" width="33" height="37.4" class="g3"/><rect x="219" width="350" height="37.4" fill="#f29e6e"/><rect x="569" width="351" height="37.4" fill="#f3a873"/><rect x="920" width="349" height="37.4" fill="#f6dc98"/></g>
<g transform="translate(0,3760.2)"><rect x="153" width="33" height="37.4" class="g3"/><rect x="219" width="350" height="37.4" fill="#ef8060"/><rect x="569" width="351" height="37.4" fill="#f3a470"/><rect x="920" width="349" height="37.4" fill="#f6df9a"/></g>
<g transform="translate(0,3797.6)"><rect x="153" width="33" height="37.4" class="g3"/><rect x="219" width="350" height="37.4" fill="#f6d594"/><rect x="569" width="351" height="37.4" fill="#f6d594"/><rect x="920" width="349" height="37.4" fill="#f6eaa6"/></g>
<g transform="translate(0,3835.0)"><rect x="153" width="33" height="37.4" class="g3"/><rect x="219" width="350" height="37.4" fill="#f08860"/><rect x="569" width="351" height="37.4" fill="#f08860"/><rect x="920" width="349" height="37.4" fill="#f3b47c"/></g>
<g transform="translate(0,3872.4)"><rect x="153" width="33" height="37.4" class="g3"/><rect x="219" width="350" height="37.4" fill="#eff0c0"/><rect x="569" width="351" height="37.4" fill="#ecf0c6"/><rect x="920" width="349" height="37.4" fill="#e6eed6"/></g>
<g transform="translate(0,3909.8)"><rect x="153" width="33" height="37.4" class="g3"/><rect x="219" width="350" height="37.4" fill="#f5cf8e"/><rect x="569" width="351" height="37.4" fill="#f3aa76"/><rect x="920" width="349" height="37.4" fill="#f3b47c"/></g>
<g transform="translate(0,3947.2)"><rect x="153" width="33" height="37.4" class="g3"/><rect x="219" width="350" height="37.4" fill="#f5d294"/><rect x="569" width="351" height="37.4" fill="#f5d294"/><rect x="920" width="349" height="37.4" fill="#f6e29e"/></g>
<g transform="translate(0,3984.6)"><rect x="153" width="33" height="37.4" class="g3"/><rect x="219" width="350" height="37.4" fill="#f6e6a6"/><rect x="569" width="351" height="37.4" fill="#f6e6a6"/><rect x="920" width="349" height="37.4" fill="#f6e6a6"/></g>
<g transform="translate(0,4022.0)"><rect x="153" width="33" height="37.4" class="g3"/><rect x="219" width="350" height="37.4" fill="#f6dc98"/><rect x="569" width="351" height="37.4" fill="#f6dc98"/><rect x="920" width="349" height="37.4" fill="#f6f2aa"/></g>
<g transform="translate(0,4059.4)"><rect x="153" width="33" height="37.4" class="g3"/><rect x="219" width="350" height="37.4" fill="#f5cf8e"/><rect x="569" width="351" height="37.4" fill="#f5cf8e"/><rect x="920" width="349" height="37.4" fill="#f6df9a"/></g>
<g transform="translate(0,4096.8)"><rect x="153" width="33" height="37.4" class="g3"/><rect x="219" width="350" height="37.4" fill="#f6dc98"/><rect x="569" width="351" height="37.4" fill="#f6dc98"/><rect x="920" width="349" height="37.4" fill="#f6e29e"/></g>
<g transform="translate(0,4134.2)"><rect x="153" width="33" height="37.4" class="g3"/><rect x="219" width="350" height="37.4" fill="#f08860"/><rect x="569" width="351" height="37.4" fill="#f08860"/><rect x="920" width="349" height="37.4" fill="#f3b47c"/></g>
<g transform="translate(0,4171.6)"><rect x="153" width="33" height="37.4" class="g3"/><rect x="219" width="350" height="37.4" fill="#f5cf8e"/><rect x="569" width="351" height="37.4" fill="#f5d294"/><rect x="920" width="349" height="37.4" fill="#f6e6a2"/></g>
<g transform="translate(0,4209.0)"><rect x="153" width="33" height="37.4" class="g3"/><rect x="219" width="350" height="37.4" fill="#f6e29e"/><rect x="569" width="351" height="37.4" fill="#f6e29e"/><rect x="920" width="349" height="37.4" fill="#f6eeac"/></g>
<g transform="translate(0,4246.4)"><rect x="153" width="33" height="37.4" class="g3"/><rect x="219" width="350" height="37.4" fill="#f3c585"/><rect x="569" width="351" height="37.4" fill="#f3c585"/><rect x="920" width="349" height="37.4" fill="#f6df9a"/></g>
<g transform="translate(0,4283.8)"><rect x="153" width="33" height="37.4" class="g4"/><rect x="219" width="350" height="37.4" fill="#abc4d1"/><rect x="569" width="351" height="37.4" fill="#abc4d1"/><rect x="920" width="349" height="37.4" fill="#c3d7df"/></g>
<g transform="translate(0,4321.2)"><rect x="153" width="33" height="37.4" class="g4"/><rect x="219" width="350" height="37.4" fill="#cfe2e7"/><rect x="569" width="351" height="37.4" fill="#e0eee8"/><rect x="920" width="349" height="37.4" fill="#e8f0d2"/></g>
<g transform="translate(0,4358.6)"><rect x="153" width="33" height="37.4" class="g4"/><rect x="219" width="350" height="37.4" fill="#e3ecda"/><rect x="569" width="351" height="37.4" fill="#e3ecda"/><rect x="920" width="349" height="37.4" fill="#e8f0d0"/></g>
<g transform="translate(0,4396.0)"><rect x="153" width="33" height="37.4" class="g4"/><rect x="219" width="350" height="37.4" fill="#98b4c7"/><rect x="569" width="351" height="37.4" fill="#b7cdd8"/><rect x="920" width="349" height="37.4" fill="#e3ecdc"/></g>
<g transform="translate(0,4433.4)"><rect x="153" width="33" height="37.4" class="g4"/><rect x="219" width="350" height="37.4" fill="#98b4c7"/><rect x="569" width="351" height="37.4" fill="#abc4d1"/><rect x="920" width="349" height="37.4" fill="#d3e4e8"/></g>
<g transform="translate(0,4470.8)"><rect x="153" width="33" height="37.4" class="g5"/><rect x="219" width="350" height="37.4" fill="#f5cf8e"/><rect x="569" width="351" height="37.4" fill="#f5cf8e"/><rect x="920" width="349" height="37.4" fill="#f6dc98"/></g>
<g transform="translate(0,4508.2)"><rect x="153" width="33" height="37.4" class="g5"/><rect x="219" width="350" height="37.4" fill="#f08c66"/><rect x="569" width="351" height="37.4" fill="#f3a873"/><rect x="920" width="349" height="37.4" fill="#f6df9a"/></g>
<g transform="translate(0,4545.6)"><rect x="153" width="33" height="37.4" class="g5"/><rect x="219" width="350" height="37.4" fill="#f6eeac"/><rect x="569" width="351" height="37.4" fill="#f6eeac"/><rect x="920" width="349" height="37.4" fill="#f6f2b0"/></g>
<g transform="translate(0,4583.0)"><rect x="153" width="33" height="37.4" class="g6"/><rect x="219" width="350" height="37.4" fill="#e8f0d0"/><rect x="569" width="351" height="37.4" fill="#e3ecdc"/><rect x="920" width="349" height="37.4" fill="#deebe6"/></g>
<g transform="translate(0,4620.4)"><rect x="153" width="33" height="37.4" class="g6"/><rect x="219" width="350" height="37.4" fill="#bcd3dd"/><rect x="569" width="351" height="37.4" fill="#abc4d1"/><rect x="920" width="349" height="37.4" fill="#b0c8d4"/></g>
<g transform="translate(0,4657.8)"><rect x="153" width="33" height="37.4" class="g6"/><rect x="219" width="350" height="37.4" fill="#f3f2ba"/><rect x="569" width="351" height="37.4" fill="#f0f2c4"/><rect x="920" width="349" height="37.4" fill="#eaf0cc"/></g>
<g transform="translate(0,4695.2)"><rect x="153" width="33" height="37.4" class="g6"/><rect x="219" width="350" height="37.4" fill="#f0f2c4"/><rect x="569" width="351" height="37.4" fill="#eef0c4"/><rect x="920" width="349" height="37.4" fill="#e8f0d0"/></g>
<g transform="translate(0,4732.6)"><rect x="153" width="33" height="37.4" class="g6"/><rect x="219" width="350" height="37.4" fill="#abc4d1"/><rect x="569" width="351" height="37.4" fill="#bcd3dd"/><rect x="920" width="349" height="37.4" fill="#e0eee8"/></g>
<g transform="translate(0,4770.0)"><rect x="153" width="33" height="37.4" class="g6"/><rect x="219" width="350" height="37.4" fill="#f3f2ba"/><rect x="569" width="351" height="37.4" fill="#f6f2b0"/><rect x="920" width="349" height="37.4" fill="#f3f2ba"/></g>
<g transform="translate(0,4807.4)"><rect x="153" width="33" height="37.4" class="g6"/><rect x="219" width="350" height="37.4" fill="#bfd5de"/><rect x="569" width="351" height="37.4" fill="#c3d7df"/><rect x="920" width="349" height="37.4" fill="#d6e6ea"/></g>
<g transform="translate(0,4844.8)"><rect x="153" width="33" height="37.4" class="g6"/><rect x="219" width="350" height="37.4" fill="#e0eee4"/><rect x="569" width="351" height="37.4" fill="#e0eee4"/><rect x="920" width="349" height="37.4" fill="#e8f0d8"/></g>
</g>

<!-- Row labels -->
<g class="rl">
<text x="1306" y="2368">Defluviitaleaceae_UCG_011</text>
<text x="1306" y="2405">Clostridia_vadinBB60_group</text>
<text x="1306" y="2443">Christensenellaceae_Unassigned</text>
<text x="1306" y="2480">Monoglobus</text>
<text x="1306" y="2518">RF39</text>
<text x="1306" y="2555">UCG_003</text>
<text x="1306" y="2592">UCG_005</text>
<text x="1306" y="2630">Clostridia_UCG_014</text>
<text x="1306" y="2667">Christensenellaceae_R_7_group</text>
<text x="1306" y="2705">Marvinbryantia</text>
<text x="1306" y="2742">UCG_010</text>
<text x="1306" y="2779">Ruminococcus</text>
<text x="1306" y="2817">Eubacterium__ruminantium_group</text>
<text x="1306" y="2854">Ruminococcaceae_Unassigned_1</text>
<text x="1306" y="2892">Izemoplasmatales</text>
<text x="1306" y="2929">Ruminococcaceae_Unassigned</text>
<text x="1306" y="2966">Lachnospiraceae_FCS020_group</text>
<text x="1306" y="3004">Lachnospiraceae_ND3007_group</text>
<text x="1306" y="3041">NK4A214_group</text>
<text x="1306" y="3079">Escherichia_Shigella</text>
<text x="1306" y="3116">Gemella</text>
<text x="1306" y="3153">Ruminococcus__gnavus_group</text>
<text x="1306" y="3191">Clostridium__innocuum_group</text>
<text x="1306" y="3228">Ruminococcus__torques_group</text>
<text x="1306" y="3266">Lachnospiraceae_NK4A136_group</text>
<text x="1306" y="3303">Asteroleplasma</text>
<text x="1306" y="3340">Oscillibacter</text>
<text x="1306" y="3378">UCG_002</text>
<text x="1306" y="3415">Muribaculaceae</text>
<text x="1306" y="3453">Incertae_Sedis</text>
<text x="1306" y="3490">Clostridia_Unassigned</text>
<text x="1306" y="3527">Victivallis</text>
<text x="1306" y="3565">Negativibacillus</text>
<text x="1306" y="3602">Eubacterium__coprostanoligenes_group</text>
<text x="1306" y="3640">Caproiciproducens</text>
<text x="1306" y="3677">Coriobacteriales_Unassigned</text>
<text x="1306" y="3714">Agathobacter</text>
<text x="1306" y="3752">Eubacterium__siraeum_group</text>
<text x="1306" y="3789">Family_XIII_UCG_001</text>
<text x="1306" y="3827">Bacteroidales_Unassigned_1</text>
<text x="1306" y="3864">Alistipes</text>
<text x="1306" y="3901">Neisseria</text>
<text x="1306" y="3939">Lachnospiraceae_UCG_001</text>
<text x="1306" y="3976">Desulfovibrionaceae_Unassigned</text>
<text x="1306" y="4014">CAG_56</text>
<text x="1306" y="4051">Dialister</text>
<text x="1306" y="4088">Paludicola</text>
<text x="1306" y="4126">Eubacterium__ventriosum_group</text>
<text x="1306" y="4163">Eubacterium__xylanophilum_group</text>
<text x="1306" y="4201">Barnesiella</text>
<text x="1306" y="4238">DTU089</text>
<text x="1306" y="4275">Gastranaerophilales</text>
<text x="1306" y="4313">Granulicatella</text>
<text x="1306" y="4350">Lactobacillales_Unassigned</text>
<text x="1306" y="4388">Corynebacterium</text>
<text x="1306" y="4425">Streptococcus</text>
<text x="1306" y="4462">Erysipelatoclostridium</text>
<text x="1306" y="4500">Intestinimonas</text>
<text x="1306" y="4537">Peptococcaceae_Unassigned</text>
<text x="1306" y="4575">Lactobacillus</text>
<text x="1306" y="4612">Enterococcus</text>
<text x="1306" y="4649">Fusobacterium</text>
<text x="1306" y="4687">Oribacterium</text>
<text x="1306" y="4724">Eisenbergiella</text>
<text x="1306" y="4762">Veillonella</text>
<text x="1306" y="4799">Holdemania</text>
<text x="1306" y="4836">Peptostreptococcus</text>
<text x="1306" y="4874">Parvimonas</text>
</g>

<!-- Colorbar -->
<defs>
<linearGradient id="cb" x1="0" y1="0" x2="0" y2="1">
<stop offset="0" stop-color="#c43c32"/>
<stop offset="0.055" stop-color="#c9453a"/>
<stop offset="0.186" stop-color="#ec7d5e"/>
<stop offset="0.313" stop-color="#f5b07a"/>
<stop offset="0.441" stop-color="#f6e6a0"/>
<stop offset="0.504" stop-color="#f5f2b0"/>
<stop offset="0.567" stop-color="#e8efd8"/>
<stop offset="0.70" stop-color="#cde2e8"/>
<stop offset="0.827" stop-color="#97b2c8"/>
<stop offset="0.955" stop-color="#63709c"/>
<stop offset="1" stop-color="#5d6a98"/>
</linearGradient>
</defs>
<rect x="1952" y="2338" width="43" height="619" fill="url(#cb)"/>
<g font-size="28" fill="#222">
<text x="2011" y="2382">0.8</text>
<text x="2011" y="2463">0.6</text>
<text x="2011" y="2542">0.4</text>
<text x="2011" y="2621">0.2</text>
<text x="2011" y="2699">0</text>
<text x="2011" y="2781">−0.2</text>
<text x="2011" y="2860">−0.4</text>
<text x="2011" y="2939">−0.6</text>
</g>

<!-- Group legend -->
<text x="1942" y="3100" font-size="28" fill="#222">Group</text>
<g stroke="#9a9494" stroke-width="3">
<rect x="1942" y="3148" width="43" height="47.5" class="g1"/>
<rect x="1942" y="3195.5" width="43" height="47.5" class="g2"/>
<rect x="1942" y="3243" width="43" height="47.5" class="g3"/>
<rect x="1942" y="3290.5" width="43" height="47.5" class="g4"/>
<rect x="1942" y="3338" width="43" height="47.5" class="g5"/>
<rect x="1942" y="3385.5" width="43" height="47.5" class="g6"/>
</g>
<g font-size="28" fill="#222">
<text x="2000" y="3182">Common v2</text>
<text x="2000" y="3229">Common v3</text>
<text x="2000" y="3277">Placebo v2</text>
<text x="2000" y="3324">Placebo v3</text>
<text x="2000" y="3372">Active v2</text>
<text x="2000" y="3419">Active v3</text>
</g>
</svg>
</body></html>
